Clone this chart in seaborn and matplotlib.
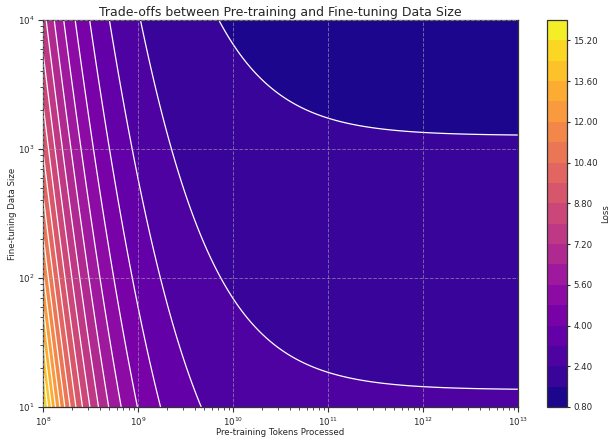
import numpy as np
import matplotlib
matplotlib.use("Agg")
import matplotlib.pyplot as plt
import seaborn as sns

# Loss surface: L(N, D) = E + (B + A / N**alpha) / D**beta
irreducible_loss = 0.32        # E
pretrain_coef = 1.66e7         # A
pretrain_exponent = 0.75       # alpha
finetune_base = 2.75           # B
finetune_exponent = 0.107      # beta

pretrain_limits = [1e8, 1e13]  # pre-training tokens N
finetune_limits = [1e1, 1e4]   # fine-tuning examples D
loss_levels = np.linspace(0.8, 16.0, 20)

title = "Trade-offs between Pre-training and Fine-tuning Data Size"
xlabel = "Pre-training Tokens Processed"
ylabel = "Fine-tuning Data Size"
cbar_label = "Loss"

sns.set_style("ticks")
plt.rcParams["font.family"] = ["DejaVu Sans"]

tokens = np.logspace(np.log10(pretrain_limits[0]), np.log10(pretrain_limits[1]), 400)
examples = np.logspace(np.log10(finetune_limits[0]), np.log10(finetune_limits[1]), 400)
N, D = np.meshgrid(tokens, examples)
loss = irreducible_loss + (finetune_base + pretrain_coef / N**pretrain_exponent) / D**finetune_exponent

cmap = sns.color_palette("plasma", as_cmap=True)

fig = plt.figure(figsize=(6.1, 4.42), dpi=100)
ax = fig.add_axes([0.0705, 0.0792, 0.7785, 0.8756])
cax = fig.add_axes([0.8967, 0.0792, 0.0328, 0.8756])

filled = ax.contourf(N, D, loss, levels=loss_levels, cmap=cmap)
ax.contour(N, D, loss, levels=loss_levels, colors="white", linewidths=0.9)
ax.set_xscale("log")
ax.set_yscale("log")
ax.set_xlim(pretrain_limits)
ax.set_ylim(finetune_limits)
ax.grid(True, which="major", linestyle="--", color="#b0b0b0", linewidth=0.7, alpha=0.55)
ax.set_axisbelow(False)

ax.set_title(title, fontsize=9, pad=3)
ax.set_xlabel(xlabel, fontsize=6.2, labelpad=0.5)
ax.set_ylabel(ylabel, fontsize=6.2, labelpad=0.5)
ax.tick_params(axis="both", which="major", labelsize=6.2, length=3.5, width=0.8, pad=2.5, color="#333333")
ax.tick_params(axis="both", which="minor", length=2, width=0.6, color="#333333")
for s in ax.spines.values():
    s.set_color("#333333")
    s.set_linewidth(0.9)

cbar = fig.colorbar(filled, cax=cax, format="%.2f")
cbar.set_label(cbar_label, fontsize=6.2, labelpad=2)
cbar.ax.tick_params(labelsize=6.2, length=2.5, width=0.8, pad=2)
cbar.outline.set_edgecolor("#333333")
cbar.outline.set_linewidth(0.9)

fig.savefig("out.png", dpi=100)
